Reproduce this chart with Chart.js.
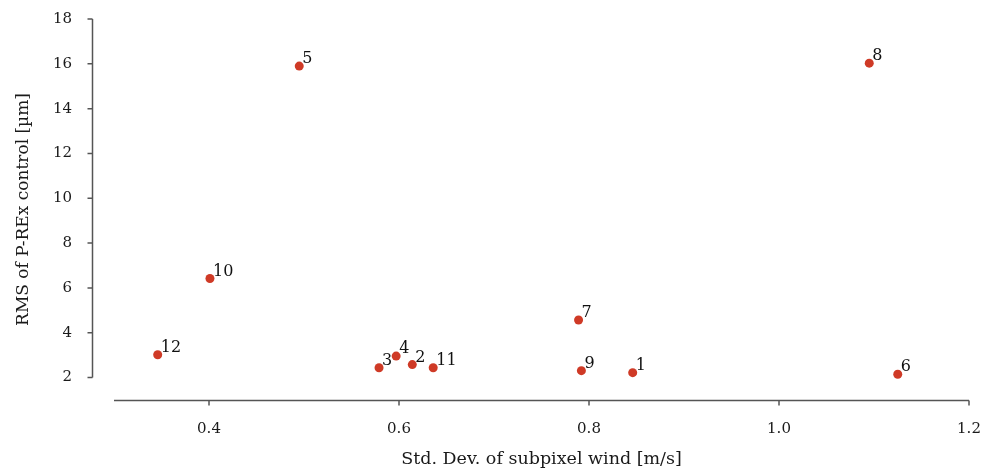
<!DOCTYPE html>
<html>
<head>
<meta charset="utf-8">
<script src="https://cdn.jsdelivr.net/npm/chart.js@4"></script>
<style>
  html, body { margin: 0; padding: 0; background: #fff; }
  #wrap { width: 986px; height: 472px; }
</style>
</head>
<body>
<div id="wrap"><canvas id="c" width="986" height="472"></canvas></div>
<script>
// Run numbers shown next to each marker
const runIds = ['1', '2', '3', '4', '5', '6', '7', '8', '9', '10', '11', '12'];
// Std. dev. of subpixel wind [m/s]
const windStd = [0.846, 0.614, 0.579, 0.597, 0.495, 1.125, 0.789, 1.095, 0.792, 0.401, 0.636, 0.346];
// RMS of P-REx control [µm]
const rmsControl = [2.22, 2.58, 2.44, 2.96, 15.9, 2.15, 4.57, 16.03, 2.31, 6.42, 2.44, 3.02];

const xTicks = [0.4, 0.6, 0.8, 1.0, 1.2];
const yTicks = [2, 4, 6, 8, 10, 12, 14, 16, 18];

const FONT = 'DejaVu Serif';
const INK = '#1a1a1a';
const AXIS = '#555555';

// Detached axis spines with outward tick marks
const spines = {
  id: 'spines',
  beforeDatasetsDraw(chart) {
    const { ctx, chartArea, scales: { x, y } } = chart;
    ctx.save();
    ctx.strokeStyle = AXIS;
    ctx.lineWidth = 1.5;
    ctx.lineCap = 'butt';
    // y spine, offset to the left of the data area
    const yx = Math.round(chartArea.left - 22) + 0.5;
    ctx.beginPath();
    ctx.moveTo(yx, y.getPixelForValue(yTicks[0]));
    ctx.lineTo(yx, y.getPixelForValue(yTicks[yTicks.length - 1]));
    yTicks.forEach(v => {
      const py = y.getPixelForValue(v);
      ctx.moveTo(yx, py);
      ctx.lineTo(yx - 5, py);
    });
    ctx.stroke();
    // x spine along the bottom edge
    const xy = Math.round(chartArea.bottom) + 0.5;
    ctx.beginPath();
    ctx.moveTo(chartArea.left, xy);
    ctx.lineTo(x.getPixelForValue(xTicks[xTicks.length - 1]), xy);
    xTicks.forEach(v => {
      const px = x.getPixelForValue(v);
      ctx.moveTo(px, xy);
      ctx.lineTo(px, xy + 5);
    });
    ctx.stroke();
    ctx.restore();
  }
};

// Run number beside each marker
const pointLabels = {
  id: 'pointLabels',
  afterDatasetsDraw(chart) {
    const { ctx } = chart;
    const meta = chart.getDatasetMeta(0);
    ctx.save();
    ctx.font = '16px "' + FONT + '"';
    ctx.fillStyle = '#111111';
    ctx.textAlign = 'left';
    ctx.textBaseline = 'alphabetic';
    meta.data.forEach((pt, i) => {
      ctx.fillText(runIds[i], pt.x + 3, pt.y - 3);
    });
    ctx.restore();
  }
};

function noEdgePadding(s) {
  s.paddingTop = 0;
  s.paddingBottom = 0;
  s.paddingLeft = 0;
  s.paddingRight = 0;
}

new Chart(document.getElementById('c'), {
  type: 'scatter',
  data: {
    datasets: [{
      data: windStd.map((v, i) => ({ x: v, y: rmsControl[i] })),
      backgroundColor: '#cf3a26',
      borderColor: '#cf3a26',
      borderWidth: 0,
      pointRadius: 4.5,
      pointHoverRadius: 4.5
    }]
  },
  options: {
    responsive: false,
    animation: false,
    devicePixelRatio: 1,
    layout: { padding: { top: 19, right: 17, bottom: 0, left: 0 } },
    plugins: {
      legend: { display: false },
      tooltip: { enabled: false }
    },
    scales: {
      x: {
        type: 'linear',
        min: 0.3,
        max: 1.2,
        grid: { display: false, drawTicks: false },
        border: { display: false },
        afterBuildTicks: s => { s.ticks = xTicks.map(v => ({ value: v })); },
        afterFit: s => { s.height = 72; noEdgePadding(s); },
        ticks: {
          padding: 20,
          maxRotation: 0,
          autoSkip: false,
          color: INK,
          font: { family: FONT, size: 15 },
          callback: v => Number(v).toFixed(1)
        },
        title: {
          display: true,
          text: 'Std. Dev. of subpixel wind [m/s]',
          color: INK,
          font: { family: FONT, size: 17.5 },
          padding: { top: 0, bottom: 2 }
        }
      },
      y: {
        type: 'linear',
        min: 1,
        max: 18,
        grid: { display: false, drawTicks: false },
        border: { display: false },
        afterBuildTicks: s => { s.ticks = yTicks.map(v => ({ value: v })); },
        afterFit: s => { s.width = 114; noEdgePadding(s); },
        ticks: {
          padding: 42,
          autoSkip: false,
          color: INK,
          font: { family: FONT, size: 15 },
          callback: v => String(v)
        },
        title: {
          display: true,
          text: 'RMS of P-REx control [µm]',
          color: INK,
          font: { family: FONT, size: 17 },
          padding: { top: 13, bottom: 0 }
        }
      }
    }
  },
  plugins: [spines, pointLabels]
});
</script>
</body>
</html>
